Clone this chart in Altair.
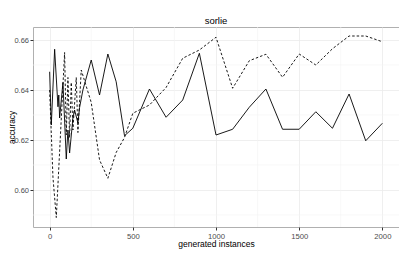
import altair as alt
import pandas as pd

# solid series
solid_x = [0, 10, 30, 50, 55, 60, 80, 100, 110, 120, 140, 150, 170, 180, 200,
           250, 300, 350, 400, 450, 500, 600, 700, 800, 900, 1000, 1100, 1200,
           1300, 1400, 1500, 1600, 1700, 1800, 1900, 2000]
solid_y = [0.6473, 0.626, 0.6563, 0.6333, 0.638, 0.6288, 0.643, 0.6124, 0.624,
           0.6148, 0.6288, 0.632, 0.6268, 0.633, 0.640, 0.652, 0.638, 0.6544,
           0.6433, 0.6217, 0.6247, 0.6404, 0.6291, 0.636, 0.6547, 0.622, 0.6243,
           0.6331, 0.6404, 0.6243, 0.6243, 0.6313, 0.6247, 0.6384, 0.6197, 0.6267]

# dashed series
dashed_x = [0, 20, 40, 90, 100, 110, 120, 130, 140, 160, 170, 190, 250, 300,
            350, 400, 450, 500, 600, 700, 800, 900, 1000, 1100, 1200, 1300,
            1400, 1500, 1600, 1700, 1800, 1900, 2000]
dashed_y = [0.640, 0.605, 0.589, 0.655, 0.622, 0.645, 0.621, 0.643, 0.624,
            0.645, 0.623, 0.648, 0.635, 0.612, 0.6047, 0.615, 0.621, 0.6307,
            0.634, 0.641, 0.6527, 0.656, 0.6611, 0.6407, 0.6517, 0.6543,
            0.6451, 0.6544, 0.650, 0.6565, 0.6616, 0.6616, 0.6593]

x_ticks = [0, 500, 1000, 1500, 2000]
y_ticks = [0.60, 0.62, 0.64, 0.66]
minor_x = [250, 750, 1250, 1750]
minor_y = [0.59, 0.61, 0.63, 0.65]

solid_df = pd.DataFrame({"x": solid_x, "y": solid_y})
dashed_df = pd.DataFrame({"x": dashed_x, "y": dashed_y})
mx_df = pd.DataFrame({"x": minor_x})
my_df = pd.DataFrame({"y": minor_y})

FONT = "Liberation Sans"
xs = alt.Scale(domain=[-100, 2100], nice=False, zero=False)
ys = alt.Scale(domain=[0.5852, 0.6652], nice=False, zero=False)

xaxis = alt.Axis(values=x_ticks, title="generated instances", format="d",
                 grid=True, gridColor="#ebebeb", gridWidth=0.8,
                 domain=False, tickColor="#333333", tickSize=3,
                 labelColor="#4d4d4d", labelFontSize=7.7, labelPadding=2,
                 titleFontSize=8.5, titleFontWeight="normal", titleColor="#000000",
                 titlePadding=0, labelFont=FONT, titleFont=FONT)
yaxis = alt.Axis(values=y_ticks, title="accuracy", format=".2f",
                 grid=True, gridColor="#ebebeb", gridWidth=0.8,
                 domain=False, tickColor="#333333", tickSize=3,
                 labelColor="#4d4d4d", labelFontSize=7.5, labelPadding=1.5,
                 titleFontSize=8.3, titleFontWeight="normal", titleColor="#000000",
                 titleX=-18.8, titleY=100, titleAngle=270,
                 titleBaseline="alphabetic", titleAlign="center",
                 labelFont=FONT, titleFont=FONT)

minor_vx = alt.Chart(mx_df).mark_rule(color="#f4f4f4", strokeWidth=0.6).encode(
    x=alt.X("x:Q", scale=xs, axis=xaxis))
minor_hy = alt.Chart(my_df).mark_rule(color="#f4f4f4", strokeWidth=0.6).encode(
    y=alt.Y("y:Q", scale=ys, axis=yaxis))

solid = alt.Chart(solid_df).mark_line(color="black", strokeWidth=0.9).encode(
    x=alt.X("x:Q", scale=xs, axis=xaxis),
    y=alt.Y("y:Q", scale=ys, axis=yaxis),
    order="x:Q")
dashed = alt.Chart(dashed_df).mark_line(color="black", strokeWidth=0.9,
                                        strokeDash=[2.5, 2]).encode(
    x=alt.X("x:Q", scale=xs, axis=xaxis),
    y=alt.Y("y:Q", scale=ys, axis=yaxis),
    order="x:Q")

chart = alt.layer(minor_vx, minor_hy, solid, dashed).properties(
    width=366, height=200,
    autosize="none",
    padding={"left": 25, "top": 19, "right": 0, "bottom": 30},
    title=alt.TitleParams("sorlie", fontSize=9.5, fontWeight="normal",
                          font=FONT, color="#000000", offset=1),
).configure_view(stroke="#b0b0b0", strokeWidth=1)

chart.save("out.html", embed_options={"renderer": "svg", "actions": False})
